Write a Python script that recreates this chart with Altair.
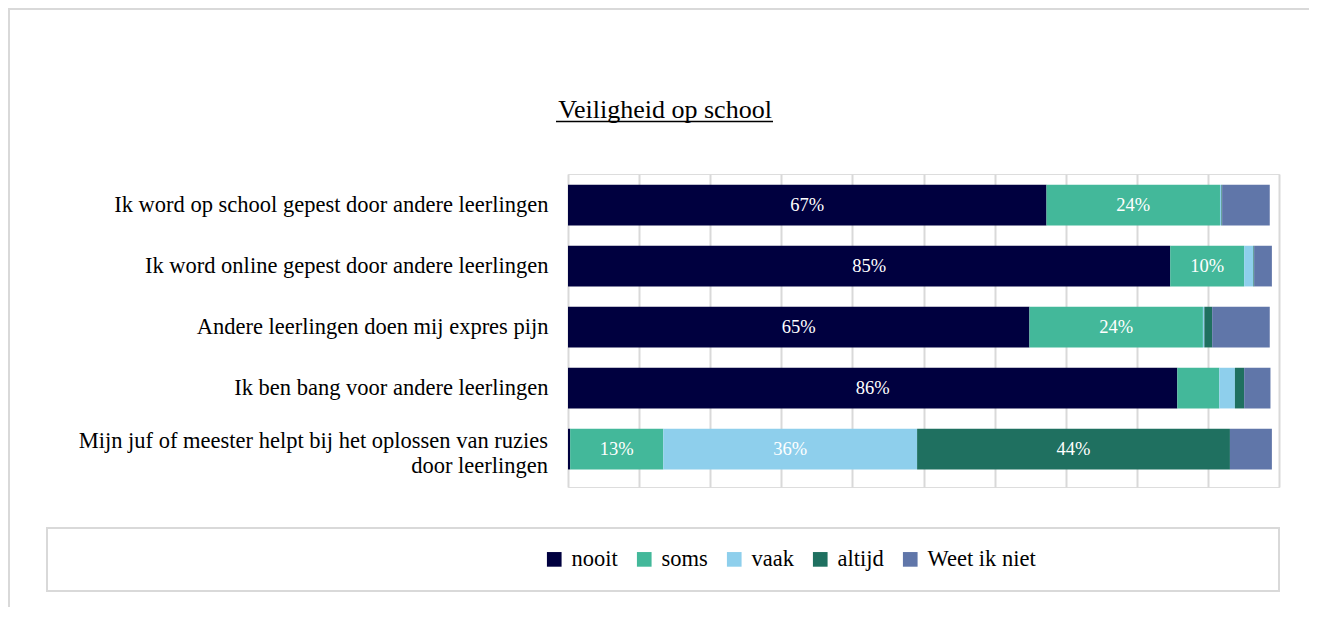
import altair as alt
import pandas as pd

items = [
    "Ik word op school gepest door andere leerlingen",
    "Ik word online gepest door andere leerlingen",
    "Andere leerlingen doen mij expres pijn",
    "Ik ben bang voor andere leerlingen",
    "Mijn juf of meester helpt bij het oplossen van ruzies door leerlingen",
]
wrapped_last = ["Mijn juf of meester helpt bij het oplossen van ruzies", "door leerlingen"]
series = ["nooit", "soms", "vaak", "altijd", "Weet ik niet"]
colors = ["#00003f", "#43b89a", "#8ecfec", "#1f7060", "#6076a9"]

nooit = [67.3, 84.7, 64.9, 85.7, 0.3]
soms = [24.4, 10.4, 24.4, 5.9, 13.1]
vaak = [0.2, 1.3, 0.2, 2.2, 35.7]
altijd = [0.1, 0.1, 1.1, 1.3, 44.0]
weet = [6.7, 2.5, 8.1, 3.7, 5.9]

title_text = "Veiligheid op school"

values = [nooit, soms, vaak, altijd, weet]
rows = []
for si, (s, vals) in enumerate(zip(series, values)):
    for item, v in zip(items, vals):
        rows.append({"item": item, "series": s, "value": v, "order": si})
df = pd.DataFrame(rows)

FONT = "Liberation Serif"
GRID = "#d9d9d9"
LABEL_SIZE = 22.5

base = alt.Chart(df).transform_stack(
    stack="value", groupby=["item"], as_=["x0", "x1"],
    sort=[alt.SortField("order", order="ascending")]
)

y_enc = alt.Y(
    "item:N", sort=items, title=None,
    scale=alt.Scale(paddingInner=0.333, paddingOuter=0.232, align=0.38),
    axis=alt.Axis(
        labelFont=FONT, labelFontSize=LABEL_SIZE, labelColor="black", labelPadding=20,
        labelLimit=0, ticks=False, domain=False,
        labelExpr="indexof(datum.label, 'ruzies') >= 0 ? '' : datum.label",
    ),
)
x_scale = alt.Scale(domain=[0, 100], nice=False, zero=True)
x_axis = alt.Axis(
    values=list(range(0, 101, 10)), grid=True, gridColor=GRID, gridWidth=2,
    labels=False, ticks=False, domain=False, title=None,
)

bars = base.mark_bar(cornerRadius=0).encode(
    x=alt.X("x0:Q", scale=x_scale, axis=x_axis),
    x2="x1:Q",
    y=y_enc,
    color=alt.Color(
        "series:N",
        scale=alt.Scale(domain=series, range=colors),
        legend=alt.Legend(
            title=None, orient="none", legendX=-25, legendY=374, direction="horizontal",
            symbolType="square", symbolSize=215, symbolStrokeWidth=0,
            labelFont=FONT, labelFontSize=22.5, labelColor="black", labelOffset=6,
            columnPadding=15, padding=0, symbolOpacity=1,
        ),
    ),
)

labels = base.transform_filter("datum.value >= 9.5").transform_calculate(
    mid="(datum.x0 + datum.x1) / 2",
    lab="format(round(datum.value), 'd') + '%'",
).mark_text(font=FONT, fontSize=18.5, color="white", baseline="middle").encode(
    x=alt.X("mid:Q", scale=x_scale, axis=x_axis),
    y=y_enc,
    text="lab:N",
)

last_label = alt.Chart(pd.DataFrame({"item": [items[-1]]})).mark_text(
    font=FONT, fontSize=LABEL_SIZE, color="black", align="right", baseline="middle",
    lineHeight=25, dy=-8,
).encode(x=alt.value(-20), y=y_enc, text=alt.value(wrapped_last))

one = pd.DataFrame({"a": [0]})
legend_box = alt.Chart(one).mark_rect(fill="white", stroke=GRID, strokeWidth=2).encode(
    x=alt.value(-521), x2=alt.value(711), y=alt.value(354), y2=alt.value(417)
)
frame_top = alt.Chart(one).mark_rule(color=GRID, strokeWidth=2).encode(
    x=alt.value(-560), x2=alt.value(760), y=alt.value(-165)
)
frame_left = alt.Chart(one).mark_rule(color=GRID, strokeWidth=2).encode(
    x=alt.value(-559), y=alt.value(-166), y2=alt.value(460)
)
title = alt.Chart(one).mark_text(
    font=FONT, fontSize=26, color="black", align="center", baseline="alphabetic"
).encode(x=alt.value(97), y=alt.value(-56.5), text=alt.value(title_text))
underline = alt.Chart(one).mark_rule(color="black", strokeWidth=1.5).encode(
    x=alt.value(-12), x2=alt.value(205), y=alt.value(-52.5)
)

chart = alt.layer(
    frame_top, frame_left, legend_box, bars, labels, last_label, title, underline
).properties(
    width=711, height=313,
    padding={"left": 560, "top": 166, "right": 30, "bottom": 120},
    autosize=alt.AutoSizeParams(type="none"),
).configure_view(stroke=GRID, strokeWidth=2).configure(background="white")

chart.save("out.html", embed_options={"renderer": "svg", "actions": False})
